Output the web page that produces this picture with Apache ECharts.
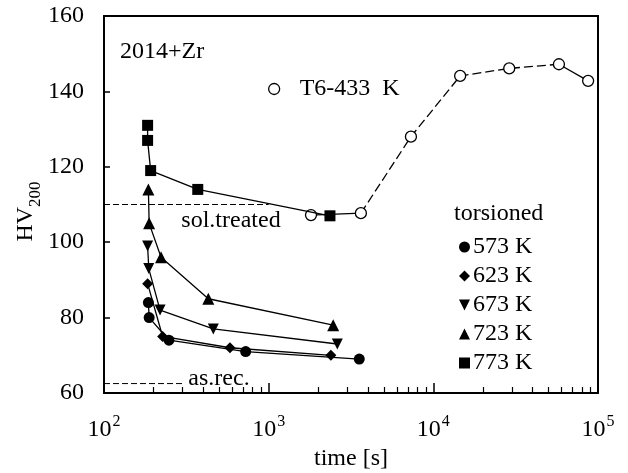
<!DOCTYPE html>
<html><head><meta charset="utf-8">
<script src="https://cdn.jsdelivr.net/npm/echarts@6/dist/echarts.min.js"></script>
<style>html,body{margin:0;padding:0;background:#fff}#c{width:628px;height:473px}</style>
</head><body><div id="c"></div>
<script>
const FONT = "'Liberation Serif','Times New Roman',serif";

// tick labels
const xTickExponents = { 100: '2', 1000: '3', 10000: '4', 100000: '5' };
const yTicks = [60, 80, 100, 120, 140, 160];

// torsioned series (time [s], HV200)
const t573 = [186, 188, 248, 725, 3550];
const hv573 = [84, 80, 74, 71, 69];
const t623 = [184, 227, 582, 2387];
const hv623 = [89, 75, 72, 70];
const t673 = [184, 187, 219, 461, 2612];
const hv673 = [99, 93, 82, 77, 73];
const t723 = [186, 188, 222, 430, 2466];
const hv723 = [114, 105, 96, 85, 78];
const t773 = [184, 184, 192, 371, 2356];
const hv773 = [131, 127, 119, 114, 107];

// T6-433 K ageing
const tT6 = [1807, 3631, 7311, 14550, 28900, 57900, 87100];
const hvT6 = [107.2, 107.7, 128, 144.1, 146.1, 147.2, 142.8];

// reference levels
const solTreatedHV = 110, solTreatedSpan = [100, 1000];
const asRecHV = 62.5, asRecSpan = [100, 310];

const downTri = 'path://M0,0 L10,0 L5,10 Z';
const zip = (a, b) => a.map((v, i) => [v, b[i]]);

function torsion(name, t, hv, symbol, size) {
  return {
    name, type: 'line', data: zip(t, hv), symbol, symbolSize: size,
    showSymbol: true, z: 5,
    lineStyle: { color: '#000', width: 1.3 },
    itemStyle: { color: '#000' }
  };
}

const t6 = zip(tT6, hvT6);
const series = [
  { type: 'line', data: [[solTreatedSpan[0], solTreatedHV], [solTreatedSpan[1], solTreatedHV]], symbol: 'none', silent: true,
    lineStyle: { color: '#000', width: 1, type: [6, 3] } },
  { type: 'line', data: [[asRecSpan[0], asRecHV], [asRecSpan[1], asRecHV]], symbol: 'none', silent: true,
    lineStyle: { color: '#000', width: 1, type: [6, 3] } },
  { type: 'line', data: t6.slice(0, 2), symbol: 'none', lineStyle: { color: '#000', width: 1.3 }, z: 3 },
  { type: 'line', data: t6.slice(1, 6), symbol: 'none', lineStyle: { color: '#000', width: 1.3, type: [9, 4] }, z: 3 },
  { type: 'line', data: t6.slice(5), symbol: 'none', lineStyle: { color: '#000', width: 1.3 }, z: 3 },
  { name: 'T6-433  K', type: 'line', data: t6, symbol: 'circle', symbolSize: 11, z: 4,
    lineStyle: { width: 0, opacity: 0 },
    itemStyle: { color: '#fff', borderColor: '#000', borderWidth: 1.3 } },
  torsion('573 K', t573, hv573, 'circle', 11),
  torsion('623 K', t623, hv623, 'diamond', 11),
  torsion('673 K', t673, hv673, downTri, 11),
  torsion('723 K', t723, hv723, 'triangle', 12),
  torsion('773 K', t773, hv773, 'rect', 11)
];

const chart = echarts.init(document.getElementById('c'), null, { renderer: 'canvas' });
const txt = { fontFamily: FONT, color: '#000' };
chart.setOption({
  animation: false,
  backgroundColor: '#fff',
  textStyle: txt,
  grid: { left: 104, right: 30, top: 16, bottom: 80, show: true, borderColor: '#000', borderWidth: 2,
    backgroundColor: 'transparent', containLabel: false, outerBoundsMode: 'none' },
  xAxis: {
    type: 'log', logBase: 10, min: 100, max: 100000, splitNumber: 3,
    name: 'time [s]', nameLocation: 'middle', nameGap: 52,
    nameTextStyle: { fontSize: 24, fontFamily: FONT, color: '#000' },
    axisLine: { lineStyle: { color: '#000', width: 2 } },
    axisTick: { inside: true, length: 10, lineStyle: { color: '#000', width: 1.5 } },
    minorTick: { show: true, splitNumber: 9, length: 6, lineStyle: { color: '#000', width: 1.2 } },
    splitLine: { show: false }, minorSplitLine: { show: false },
    axisLabel: {
      margin: 21, color: '#000',
      formatter: v => '{n|10}{e|' + (xTickExponents[Math.round(v)] || '') + '}',
      rich: {
        n: { fontSize: 24, fontFamily: FONT, color: '#000', verticalAlign: 'bottom' },
        e: { fontSize: 16, fontFamily: FONT, color: '#000', verticalAlign: 'bottom', padding: [0, 0, 12, 1] }
      }
    }
  },
  yAxis: {
    type: 'value', min: yTicks[0], max: yTicks[yTicks.length - 1], interval: 20,
    name: '{a|HV}{b|200}', nameLocation: 'middle', nameGap: 60, nameRotate: 90, nameMoveOverlap: false,
    nameTextStyle: { padding: [0, 14, 0, 0], rich: {
      a: { fontSize: 24, fontFamily: FONT, color: '#000', verticalAlign: 'bottom', padding: [0, 0, 6, 0] },
      b: { fontSize: 17, fontFamily: FONT, color: '#000', verticalAlign: 'bottom' }
    } },
    axisLine: { lineStyle: { color: '#000', width: 2 } },
    axisTick: { inside: true, length: 6, lineStyle: { color: '#000', width: 1.5 } },
    splitLine: { show: false },
    axisLabel: { fontSize: 24, fontFamily: FONT, color: '#000', margin: 20 }
  },
  legend: [
    { data: [
        { name: '573 K', icon: 'circle' },
        { name: '623 K', icon: 'diamond' },
        { name: '673 K', icon: downTri },
        { name: '723 K', icon: 'triangle' },
        { name: '773 K', icon: 'rect' }
      ],
      orient: 'vertical', left: 454, top: 230, itemWidth: 11, itemHeight: 11, itemGap: 5,
      selectedMode: false, inactiveColor: '#000',
      textStyle: { fontSize: 24, fontFamily: FONT, color: '#000', padding: [0, 0, 0, -2] } },
    { data: [{ name: 'T6-433  K', icon: 'circle', itemStyle: { color: '#fff', borderColor: '#000', borderWidth: 1.3 } }],
      left: 263, top: 72, itemWidth: 11, itemHeight: 11, selectedMode: false,
      textStyle: { fontSize: 24, fontFamily: FONT, color: '#000', padding: [0, 0, 0, 15] } }
  ],
  graphic: [
    { type: 'text', x: 120, y: 52, style: { text: '2014+Zr', fontSize: 24, fontFamily: FONT, fill: '#000', align: 'left', verticalAlign: 'middle' } },
    { type: 'text', x: 454, y: 214, style: { text: 'torsioned', fontSize: 24, fontFamily: FONT, fill: '#000', align: 'left', verticalAlign: 'middle' } },
    { type: 'text', x: 231, y: 221, style: { text: 'sol.treated', fontSize: 24, fontFamily: FONT, fill: '#000', align: 'center', verticalAlign: 'middle' } },
    { type: 'text', x: 219, y: 379, style: { text: 'as.rec.', fontSize: 24, fontFamily: FONT, fill: '#000', align: 'center', verticalAlign: 'middle' } }
  ],
  series
});
</script></body></html>
